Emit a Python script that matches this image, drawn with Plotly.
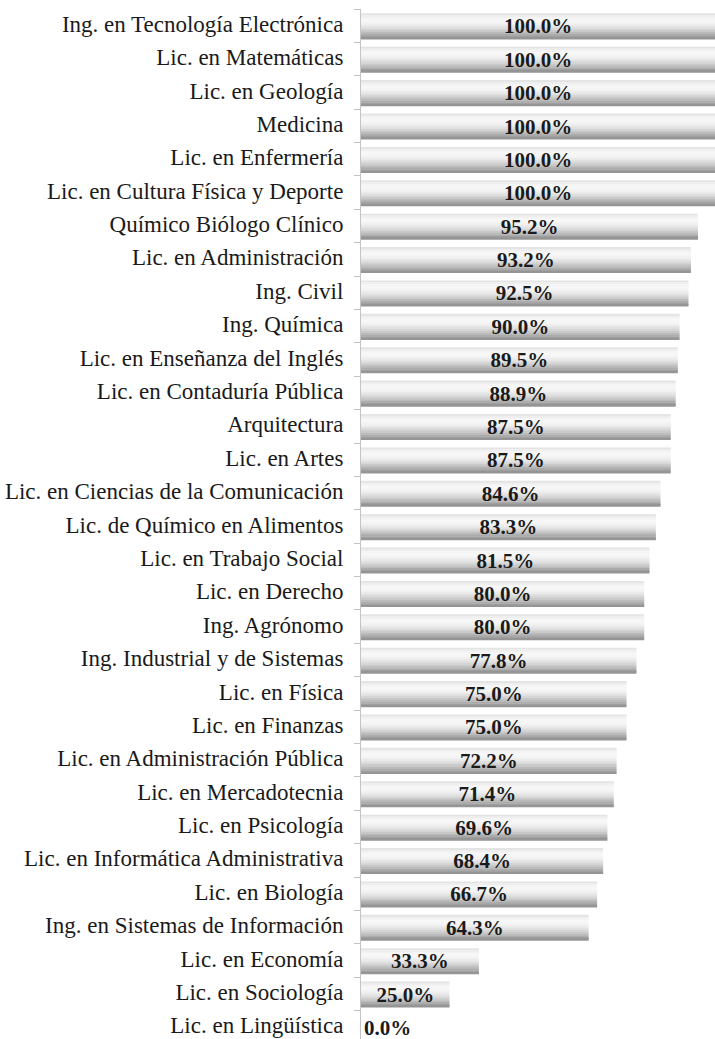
import plotly.graph_objects as go

categories = [
    "Ing. en Tecnología Electrónica", "Lic. en Matemáticas", "Lic. en Geología", "Medicina",
    "Lic. en Enfermería", "Lic. en Cultura Física y Deporte", "Químico Biólogo Clínico",
    "Lic. en Administración", "Ing. Civil", "Ing. Química", "Lic. en Enseñanza del Inglés",
    "Lic. en Contaduría Pública", "Arquitectura", "Lic. en Artes",
    "Lic. en Ciencias de la Comunicación", "Lic. de Químico en Alimentos", "Lic. en Trabajo Social",
    "Lic. en Derecho", "Ing. Agrónomo", "Ing. Industrial y de Sistemas", "Lic. en Física",
    "Lic. en Finanzas", "Lic. en Administración Pública", "Lic. en Mercadotecnia",
    "Lic. en Psicología", "Lic. en Informática Administrativa", "Lic. en Biología",
    "Ing. en Sistemas de Información", "Lic. en Economía", "Lic. en Sociología", "Lic. en Lingüística",
]
values = [100.0, 100.0, 100.0, 100.0, 100.0, 100.0, 95.2, 93.2, 92.5, 90.0, 89.5, 88.9, 87.5, 87.5,
          84.6, 83.3, 81.5, 80.0, 80.0, 77.8, 75.0, 75.0, 72.2, 71.4, 69.6, 68.4, 66.7, 64.3,
          33.3, 25.0, 0.0]
labels = [f"{v:.1f}%" for v in values]

# vertical gradient across bar thickness (top -> bottom on screen)
gradient = ["#e4e4e4", "#eeeeee", "#f4f4f4", "#f7f7f7", "#f5f5f5", "#f1f1f1", "#eaeaea",
            "#e1e1e1", "#d6d6d6", "#c9c9c9", "#bbbbbb", "#acacac", "#9f9f9f", "#959595"]

SERIF = "Liberation Serif, Times New Roman, Times, serif"

fig = go.Figure()
bar_w = 0.78
bar_off = -0.37
n = len(gradient)
sw = bar_w / n
for i, col in enumerate(gradient):
    fig.add_trace(go.Bar(
        y=categories, x=values, orientation="h",
        width=sw * 1.15 if i < n - 1 else sw, offset=bar_off + i * sw,
        marker=dict(color=col, line=dict(width=0)),
        hoverinfo="skip", showlegend=False,
    ))

tf = dict(family=SERIF, size=21, color="#1a1a1a", weight="bold")
fig.add_trace(go.Bar(
    y=categories, x=values, orientation="h", width=bar_w, offset=bar_off,
    marker=dict(color="rgba(0,0,0,0)", line=dict(width=0)),
    text=labels,
    textposition=["inside" if v > 0 else "outside" for v in values],
    insidetextanchor="middle",
    textfont=tf, insidetextfont=tf, outsidetextfont=tf,
    constraintext="none", cliponaxis=False,
    showlegend=False,
))

fig.update_layout(
    width=715, height=1039,
    margin=dict(l=361, r=0, t=9, b=0),
    barmode="overlay",
    plot_bgcolor="white", paper_bgcolor="white",
    font=dict(family=SERIF, size=23, color="#1a1a1a"),
    xaxis=dict(visible=False, range=[0, 100], fixedrange=True),
    yaxis=dict(
        type="category", categoryorder="array", categoryarray=categories,
        range=[30.35, -0.5],
        showline=True, linecolor="#c4c4c4", linewidth=1,
        ticks="outside", tickson="boundaries", ticklen=6, tickcolor="#c4c4c4",
        showgrid=False, ticklabelstandoff=12, ticklabelshift=2,
        tickfont=dict(family=SERIF, size=23, color="#1a1a1a"),
    ),
)

fig.write_html("out.html", config={"displayModeBar": False},
               post_script="document.body.style.margin='0';document.body.style.overflow='hidden';")
